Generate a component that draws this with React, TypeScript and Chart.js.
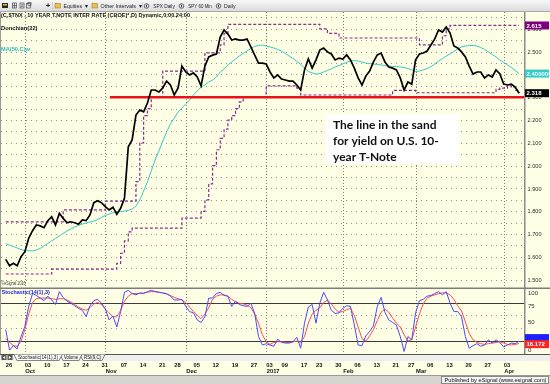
import React, { useEffect, useRef } from "react";
import { Chart, registerables } from "chart.js";
Chart.register(...registerables);

// ---------------- DATA ----------------
// one value per trading day, 2016-09-26 .. 2017-04-07 (index 0..134)
const closeYield = [
  1.589, 1.561, 1.572, 1.561, 1.601, 1.623, 1.682, 1.715, 1.740, 1.736,
  1.728, 1.759, 1.776, 1.740, 1.791, 1.769, 1.750, 1.754, 1.750, 1.743,
  1.762, 1.759, 1.784, 1.838, 1.846, 1.838, 1.820, 1.806, 1.818, 1.787,
  1.813, 1.857, 2.083, 2.113, 2.222, 2.244, 2.236, 2.275, 2.332, 2.332,
  2.323, 2.341, 2.371, 2.354, 2.310, 2.341, 2.437, 2.411, 2.398, 2.407,
  2.389, 2.350, 2.437, 2.477, 2.485, 2.490, 2.564, 2.595, 2.577, 2.551,
  2.556, 2.551, 2.551, 2.556, 2.521, 2.485, 2.450, 2.450, 2.446, 2.411,
  2.385, 2.398, 2.380, 2.376, 2.371, 2.371, 2.354, 2.332, 2.420, 2.468,
  2.428, 2.464, 2.507, 2.516, 2.499, 2.490, 2.464, 2.472, 2.468, 2.486,
  2.464, 2.428, 2.385, 2.354, 2.393, 2.415, 2.455, 2.486, 2.494, 2.455,
  2.433, 2.428, 2.420, 2.385, 2.332, 2.367, 2.358, 2.464, 2.490, 2.494,
  2.503, 2.529, 2.556, 2.595, 2.586, 2.608, 2.582, 2.525, 2.516, 2.499,
  2.477, 2.437, 2.402, 2.411, 2.411, 2.385, 2.398, 2.389, 2.420, 2.402,
  2.358, 2.354, 2.358, 2.345, 2.318,
];

const ma50 = [
  1.657, 1.652, 1.646, 1.639, 1.632, 1.628, 1.627, 1.627, 1.630, 1.637,
  1.648, 1.659, 1.670, 1.681, 1.692, 1.703, 1.714, 1.722, 1.731, 1.738,
  1.744, 1.749, 1.753, 1.757, 1.764, 1.773, 1.782, 1.788, 1.793, 1.797,
  1.799, 1.801, 1.804, 1.810, 1.823, 1.850, 1.889, 1.929, 1.977, 2.025,
  2.064, 2.108, 2.148, 2.183, 2.209, 2.236, 2.253, 2.271, 2.288, 2.310,
  2.328, 2.345, 2.354, 2.367, 2.376, 2.389, 2.411, 2.424, 2.442, 2.455,
  2.468, 2.481, 2.492, 2.503, 2.514, 2.523, 2.527, 2.529, 2.525, 2.521,
  2.516, 2.510, 2.503, 2.492, 2.481, 2.470, 2.457, 2.444, 2.429, 2.413,
  2.407, 2.402, 2.404, 2.411, 2.418, 2.424, 2.433, 2.439, 2.446, 2.453,
  2.459, 2.461, 2.459, 2.455, 2.450, 2.448, 2.446, 2.444, 2.442, 2.439,
  2.437, 2.435, 2.435, 2.433, 2.431, 2.426, 2.420, 2.413, 2.415, 2.420,
  2.426, 2.435, 2.446, 2.459, 2.470, 2.481, 2.490, 2.501, 2.512, 2.521,
  2.525, 2.527, 2.527, 2.525, 2.518, 2.510, 2.499, 2.488, 2.477, 2.463,
  2.453, 2.442, 2.431, 2.418, 2.404,
];

// Donchian(22) channel, as step change points (day index, level)
const donchUpperIdx = [0, 15, 26, 34, 35, 36, 37, 38, 41, 52, 56, 57, 58, 82, 84, 87, 108, 114, 115, 116, 134];
const donchUpperVal = [1.754, 1.806, 1.845, 1.93, 2.10, 2.22, 2.25, 2.30, 2.415, 2.495, 2.53, 2.58, 2.62, 2.60, 2.58, 2.56, 2.53, 2.57, 2.60, 2.615, 2.615];
const donchLowerIdx = [0, 12, 29, 30, 31, 32, 33, 46, 51, 52, 53, 54, 55, 56, 57, 58, 59, 60, 61, 62, 68, 76, 77, 101, 107, 128, 129, 131, 132, 133, 134];
const donchLowerVal = [1.525, 1.546, 1.572, 1.616, 1.67, 1.71, 1.726, 1.77, 1.80, 1.85, 1.92, 2.00, 2.07, 2.12, 2.16, 2.20, 2.22, 2.25, 2.28, 2.30, 2.35, 2.34, 2.31, 2.33, 2.32, 2.335, 2.34, 2.35, 2.344, 2.33, 2.318];

// Stochastic(14(1),3)
const stochK = [
  38, 6, 13, 8, 27, 43, 74, 94, 91, 87,
  83, 90, 84, 77, 97, 88, 82, 79, 75, 71,
  68, 58, 75, 83, 85, 79, 70, 53, 59, 42,
  66, 96, 99, 94, 92, 95, 94, 97, 99, 97,
  96, 95, 94, 90, 84, 84, 85, 74, 66, 64,
  53, 49, 58, 87, 87, 94, 96, 91, 90, 74,
  82, 77, 75, 74, 79, 63, 27, 14, 16, 14,
  12, 23, 18, 17, 17, 19, 26, 9, 48, 73,
  77, 48, 79, 96, 84, 68, 63, 64, 71, 75,
  74, 45, 14, 13, 28, 35, 44, 74, 88, 65,
  53, 49, 45, 27, 4, 27, 22, 64, 83, 85,
  90, 91, 94, 97, 92, 97, 79, 66, 66, 58,
  27, 9, 13, 16, 12, 14, 22, 17, 22, 18,
  11, 14, 17, 16, 20,
];
const stochD = [
  24, 18, 13, 12, 20, 38, 62, 80, 86, 87,
  87, 87, 86, 85, 86, 86, 84, 81, 77, 73,
  70, 68, 72, 78, 80, 77, 70, 64, 58, 58,
  68, 82, 90, 94, 94, 94, 95, 96, 97, 97,
  96, 95, 93, 91, 88, 86, 84, 80, 73, 66,
  60, 55, 62, 72, 85, 90, 92, 92, 90, 85,
  81, 79, 78, 76, 72, 62, 48, 30, 19, 15,
  18, 19, 19, 18, 18, 19, 20, 18, 27, 48,
  62, 68, 72, 80, 84, 78, 70, 65, 66, 69,
  71, 60, 42, 24, 20, 28, 38, 52, 65, 70,
  65, 56, 48, 42, 30, 20, 22, 42, 62, 78,
  87, 90, 92, 94, 95, 95, 92, 85, 75, 67,
  50, 32, 22, 18, 16, 15, 16, 17, 18, 19,
  17, 15, 14, 15, 16.172,
];

const weekTickIdx = [0, 5, 10, 15, 20, 25, 30, 35, 40, 44, 49, 54, 59, 64, 68, 72, 77, 81, 86, 91, 96, 101, 105, 110, 115, 120, 125, 130];
const weekTickLabels = ["26", "03", "10", "17", "24", "31", "07", "14", "21", "28", "05", "12", "19", "27", "03", "09", "17", "23", "30", "06", "13", "21", "27", "06", "13", "20", "27", "03"];
const monthIdx = [5, 26, 47, 68, 88, 107, 130];
const monthLabels = ["Oct", "Nov", "Dec", "2017", "Feb", "Mar", "Apr"];

const priceTicks = [1.5, 1.6, 1.7, 1.8, 1.9, 2.0, 2.1, 2.2, 2.3, 2.4, 2.5, 2.6];
const priceGridLevels = [1.5, 1.55, 1.6, 1.65, 1.7, 1.75, 1.8, 1.85, 1.9, 1.95, 2.0, 2.05, 2.1, 2.15, 2.2, 2.25, 2.3, 2.35, 2.4, 2.45, 2.5, 2.55, 2.6, 2.65];
const stochTicks = [0, 25, 50, 75, 100];
const stochBands = [20, 80];
const stochGridLevels = [40, 60];
const sandLevel = 2.3;
const sandStartIdx = 27.2;
const maLastLabel = "2.4000000";

// ---------------- LAYOUT / STYLE ----------------
const W = 550, H = 384;
const TOOLBAR_H = 12;
const PLOT_RIGHT = 524;
const PRICE_BOTTOM = 288;
const STOCH_BOTTOM = 354;
const CREAM = "#FFFFE6";
const FONT = "'Liberation Sans', Arial, sans-serif";
const C_PRICE = "#000000";
const C_MA = "#38C8C8";
const C_DON = "#8E2A8E";
const C_SAND = "#E8121A";
const C_K = "#4A4AFF";
const C_D = "#FF4C4C";

function fitText(ctx: CanvasRenderingContext2D, txt: string, x: number, y: number, w: number, align: "left" | "right" | "center" = "left") {
  const m = ctx.measureText(txt).width || 1;
  const s = w / m;
  ctx.save();
  ctx.translate(x, y);
  ctx.scale(s, 1);
  ctx.textAlign = align;
  ctx.fillText(txt, 0, 0);
  ctx.restore();
}

function hLine(ctx: CanvasRenderingContext2D, x0: number, x1: number, y: number) {
  ctx.beginPath();
  ctx.moveTo(x0, y);
  ctx.lineTo(x1, y);
  ctx.stroke();
}
function vLine(ctx: CanvasRenderingContext2D, x: number, y0: number, y1: number) {
  ctx.beginPath();
  ctx.moveTo(x, y0);
  ctx.lineTo(x, y1);
  ctx.stroke();
}

function valueBox(ctx: CanvasRenderingContext2D, y: number, bg: string, fg: string, txt: string) {
  ctx.fillStyle = bg;
  ctx.fillRect(525, y - 4, 24, 8);
  ctx.save();
  ctx.beginPath();
  ctx.rect(525, y - 4, 24, 8);
  ctx.clip();
  ctx.fillStyle = fg;
  ctx.font = `bold 6px ${FONT}`;
  ctx.textAlign = "left";
  ctx.textBaseline = "middle";
  ctx.fillText(txt, 526.5, y + 0.5);
  ctx.restore();
}

function folderIcon(ctx: CanvasRenderingContext2D, x: number) {
  ctx.fillStyle = "#E8C24A";
  ctx.fillRect(x, 3.5, 5.5, 4.5);
  ctx.fillStyle = "#F6DA7A";
  ctx.fillRect(x, 2.5, 2.5, 1.5);
  ctx.strokeStyle = "#8C7020";
  ctx.lineWidth = 0.5;
  ctx.strokeRect(x, 3.5, 5.5, 4.5);
}
function roundIcon(ctx: CanvasRenderingContext2D, x: number) {
  ctx.strokeStyle = "#333";
  ctx.lineWidth = 0.7;
  ctx.beginPath();
  ctx.arc(x, 6, 2.3, 0, Math.PI * 2);
  ctx.stroke();
  ctx.fillStyle = "#333";
  ctx.fillRect(x - 0.5, 4.8, 1, 2.4);
}

const esignalPlugin = {
  id: "esignal",
  beforeDraw(chart: any) {
    const ctx: CanvasRenderingContext2D = chart.ctx;
    ctx.save();
    ctx.fillStyle = CREAM;
    ctx.fillRect(0, 0, W, H);
    // toolbar
    const g = ctx.createLinearGradient(0, 0, 0, TOOLBAR_H);
    g.addColorStop(0, "#F7F7F7");
    g.addColorStop(1, "#DADADA");
    ctx.fillStyle = g;
    ctx.fillRect(0, 0, W, TOOLBAR_H);
    ctx.fillStyle = "#A9A9A9";
    ctx.fillRect(0, TOOLBAR_H - 1, W, 1);
    // toolbar icons
    ctx.fillStyle = "#2A2A2A";
    ctx.fillRect(2, 3, 6, 5);
    ctx.fillStyle = "#E8C030";
    ctx.fillRect(3, 4, 4, 1.5);
    ctx.strokeStyle = "#333";
    ctx.lineWidth = 0.6;
    ctx.strokeRect(12.5, 3, 4, 5);
    hLine(ctx, 12.5, 16.5, 5.5);
    vLine(ctx, 14.5, 3, 8);
    ctx.strokeRect(20, 3, 4, 5);
    hLine(ctx, 20.8, 23.2, 4.8);
    hLine(ctx, 20.8, 23.2, 6.3);
    ctx.strokeRect(26.5, 3.5, 4, 4.5);
    ctx.strokeRect(28, 2.5, 3, 3);
    ctx.fillStyle = "#222";
    ctx.font = `bold 8px ${FONT}`;
    ctx.textBaseline = "middle";
    ctx.textAlign = "center";
    ctx.fillText("+", 48, 6);
    ctx.strokeStyle = "#BDBDBD";
    vLine(ctx, 52.5, 2, 10);
    vLine(ctx, 142.5, 2, 10);
    ctx.font = `5.6px ${FONT}`;
    ctx.fillStyle = "#1E1E1E";
    folderIcon(ctx, 55);
    ctx.fillStyle = "#1E1E1E";
    fitText(ctx, "Equities", 63.5, 6.2, 18.5);
    fitText(ctx, "\u25BE", 85, 6.2, 3);
    folderIcon(ctx, 92);
    ctx.fillStyle = "#1E1E1E";
    fitText(ctx, "Other Intervals", 100.5, 6.2, 35.5);
    fitText(ctx, "\u25BE", 138.5, 6.2, 3);
    roundIcon(ctx, 146.5);
    ctx.fillStyle = "#1E1E1E";
    fitText(ctx, "SPX Daily", 153.3, 6.2, 21.5);
    roundIcon(ctx, 181.5);
    ctx.fillStyle = "#1E1E1E";
    fitText(ctx, "SPY 60 Min", 188.3, 6.2, 23.5);
    roundIcon(ctx, 218.5);
    ctx.fillStyle = "#1E1E1E";
    fitText(ctx, "Daily", 224, 6.2, 11.5);
    ctx.restore();
  },
  beforeDatasetsDraw(chart: any) {
    const ctx: CanvasRenderingContext2D = chart.ctx;
    const xs = chart.scales.x, ys = chart.scales.y, y2 = chart.scales.y2;
    ctx.save();
    ctx.lineWidth = 1;
    // horizontal dotted price grid
    ctx.strokeStyle = "#8F8F8F";
    ctx.setLineDash([1, 4]);
    for (const v of priceGridLevels) {
      const yy = Math.round(ys.getPixelForValue(v)) + 0.5;
      if (yy > TOOLBAR_H + 2 && yy < PRICE_BOTTOM - 1) hLine(ctx, 1, PLOT_RIGHT, yy);
    }
    for (const v of stochGridLevels) {
      const yy = Math.round(y2.getPixelForValue(v)) + 0.5;
      hLine(ctx, 1, PLOT_RIGHT, yy);
    }
    // vertical month lines
    ctx.strokeStyle = "#7E7E7E";
    ctx.setLineDash([1, 2]);
    for (const m of monthIdx) {
      const xx = Math.round(xs.getPixelForValue(m)) + 0.5;
      vLine(ctx, xx, TOOLBAR_H, STOCH_BOTTOM);
    }
    ctx.setLineDash([]);
    // stochastic band lines
    ctx.strokeStyle = "#3C3C3C";
    for (const b of stochBands) {
      const yy = Math.round(y2.getPixelForValue(b)) + 0.5;
      hLine(ctx, 0, PLOT_RIGHT, yy);
    }
    // borders
    ctx.strokeStyle = "#9A9A9A";
    vLine(ctx, 0.5, TOOLBAR_H, STOCH_BOTTOM);
    ctx.strokeStyle = "#8A8A8A";
    ctx.lineWidth = 1.5;
    vLine(ctx, PLOT_RIGHT + 0.75, TOOLBAR_H, STOCH_BOTTOM);
    ctx.strokeStyle = "#7C7C7C";
    ctx.lineWidth = 1.5;
    hLine(ctx, 0, W, PRICE_BOTTOM + 0.25);
    ctx.restore();
  },
  afterDatasetsDraw(chart: any) {
    const ctx: CanvasRenderingContext2D = chart.ctx;
    const xs = chart.scales.x, ys = chart.scales.y, y2 = chart.scales.y2;
    ctx.save();
    ctx.textBaseline = "middle";

    // header texts
    ctx.fillStyle = "#111";
    ctx.font = `bold 6px ${FONT}`;
    fitText(ctx, "(C,$TNX , 10 YEAR T.NOTE INTER RATE (CBOE)*,D) Dynamic,0:00.24:00", 1, 15.3, 189);
    fitText(ctx, "Donchian(22)", 1, 28.8, 36.5);
    ctx.fillStyle = "#2CBABA";
    fitText(ctx, "MA(50,C)w", 1, 49.3, 29);
    ctx.fillStyle = "#333";
    ctx.font = `4.5px ${FONT}`;
    fitText(ctx, "\u00A9eSignal 2016", 1.5, 283.5, 24);
    ctx.fillStyle = "#2323D8";
    ctx.font = `bold 6px ${FONT}`;
    fitText(ctx, "Stochastic(14(1),3)", 1.7, 292.6, 48);

    // annotation box
    ctx.fillStyle = "#FFFFFF";
    ctx.fillRect(326, 114, 133, 50);
    ctx.fillStyle = "#111";
    ctx.font = `bold 12px Lato, 'Open Sans', sans-serif`;
    ctx.textAlign = "left";
    ctx.fillText("The line in the sand", 333, 125.5);
    ctx.fillText("for yield on U.S. 10-", 333, 141.5);
    ctx.fillText("year T-Note", 333, 157.5);

    // right axis labels (price)
    ctx.fillStyle = "#2E2E2E";
    ctx.font = `6px ${FONT}`;
    for (const t of priceTicks) {
      const yy = ys.getPixelForValue(t);
      fitText(ctx, t.toFixed(3), 527.5, yy + 0.5, 14);
    }
    // right axis labels (stochastic)
    for (const t of stochTicks) {
      let yy = y2.getPixelForValue(t);
      yy = Math.max(PRICE_BOTTOM + 5, Math.min(STOCH_BOTTOM - 4, yy));
      ctx.textAlign = "left";
      ctx.fillText(String(t), 528, yy + 0.5);
    }

    // last-value boxes
    const last = closeYield.length - 1;
    valueBox(ctx, ys.getPixelForValue(donchUpperVal[donchUpperVal.length - 1]), "#7E007E", "#FFFFFF", donchUpperVal[donchUpperVal.length - 1].toFixed(3));
    valueBox(ctx, ys.getPixelForValue(ma50[last]), "#36CACA", "#E8FFFF", maLastLabel);
    valueBox(ctx, ys.getPixelForValue(closeYield[last]), "#000000", "#FFFFFF", closeYield[last].toFixed(3));
    const dY = y2.getPixelForValue(stochD[last]);
    valueBox(ctx, dY - 5.5, "#2020FF", "#2020FF", stochK[last].toFixed(3));
    valueBox(ctx, dY + 0.5, "#FF2222", "#FFFFFF", stochD[last].toFixed(3));

    // tab bar
    ctx.fillStyle = "#EFEFEF";
    ctx.fillRect(0, STOCH_BOTTOM, W, 7);
    ctx.strokeStyle = "#555";
    ctx.lineWidth = 1;
    hLine(ctx, 0, W, STOCH_BOTTOM + 0.5);
    for (const bx of [1.5, 7.5]) {
      ctx.fillStyle = "#555";
      ctx.fillRect(bx, STOCH_BOTTOM + 1, 5, 5);
    }
    ctx.fillStyle = "#FFF";
    ctx.beginPath();
    ctx.moveTo(5.2, STOCH_BOTTOM + 2); ctx.lineTo(2.8, STOCH_BOTTOM + 3.5); ctx.lineTo(5.2, STOCH_BOTTOM + 5); ctx.fill();
    ctx.beginPath();
    ctx.moveTo(8.8, STOCH_BOTTOM + 2); ctx.lineTo(11.2, STOCH_BOTTOM + 3.5); ctx.lineTo(8.8, STOCH_BOTTOM + 5); ctx.fill();
    const tabs: [string, number, number, boolean][] = [
      ["Stochastic(14(1),3)", 14, 62, true],
      ["Volume", 60, 82, false],
      ["RSI(9,C)", 80, 105, false],
    ];
    for (let k = tabs.length - 1; k >= 0; k--) {
      const [txt, a, b, active] = tabs[k];
      ctx.fillStyle = active ? "#FFFFFF" : "#F2F2F2";
      ctx.beginPath();
      ctx.moveTo(a, STOCH_BOTTOM + 0.5);
      ctx.lineTo(a + 3, STOCH_BOTTOM + 6.5);
      ctx.lineTo(b - 3, STOCH_BOTTOM + 6.5);
      ctx.lineTo(b, STOCH_BOTTOM + 0.5);
      ctx.fill();
      ctx.strokeStyle = "#555";
      ctx.lineWidth = 0.7;
      ctx.stroke();
      ctx.fillStyle = "#111";
      ctx.font = `5px ${FONT}`;
      fitText(ctx, txt, (a + b) / 2, STOCH_BOTTOM + 3.6, b - a - 8, "center");
    }

    // x axis labels
    ctx.fillStyle = "#111";
    ctx.font = `bold 5.8px ${FONT}`;
    for (let k = 0; k < weekTickIdx.length; k++) {
      const xx = xs.getPixelForValue(weekTickIdx[k]);
      ctx.textAlign = "left";
      ctx.fillText(weekTickLabels[k], xx, 365);
    }
    for (let k = 0; k < monthIdx.length; k++) {
      const xx = xs.getPixelForValue(monthIdx[k]);
      ctx.textAlign = "left";
      ctx.fillText(monthLabels[k], xx + 0.5, 371.5);
    }

    // bottom strip
    ctx.fillStyle = "#D8D5D0";
    ctx.fillRect(0, 375.5, W, H - 375.5);
    ctx.strokeStyle = "#9C9C9C";
    ctx.lineWidth = 1;
    hLine(ctx, 0, W, 375.5);
    ctx.fillStyle = "#F4F4F4";
    ctx.fillRect(441.5, 376.5, 107, 7);
    ctx.strokeStyle = "#8A8A8A";
    ctx.strokeRect(441.5, 376.5, 107, 7);
    ctx.fillStyle = "#111";
    ctx.font = `5.8px ${FONT}`;
    fitText(ctx, "Published by eSignal (www.esignal.com)", 546.5, 380.2, 102, "right");
    ctx.restore();
  },
};

export default function App() {
  const ref = useRef<HTMLCanvasElement>(null);
  useEffect(() => {
    const pts = (arr: number[]) => arr.map((y, x) => ({ x, y }));
    const steps = (idx: number[], val: number[]) => idx.map((x, k) => ({ x, y: val[k] }));
    const xMin = -1.49;
    const xMax = 135.3;
    const chart = new Chart(ref.current as HTMLCanvasElement, {
      type: "line",
      data: {
        datasets: [
          { data: pts(closeYield), yAxisID: "y", borderColor: C_PRICE, borderWidth: 1.7, pointRadius: 0, order: 0 },
          { data: [{ x: sandStartIdx, y: sandLevel }, { x: xMax, y: sandLevel }], yAxisID: "y", borderColor: C_SAND, borderWidth: 2.6, pointRadius: 0, order: 1 },
          { data: pts(ma50), yAxisID: "y", borderColor: C_MA, borderWidth: 1, pointRadius: 0, order: 4 },
          { data: steps(donchUpperIdx, donchUpperVal), yAxisID: "y", borderColor: C_DON, borderWidth: 1.2, borderDash: [3, 2], stepped: true, pointRadius: 0, order: 3 },
          { data: steps(donchLowerIdx, donchLowerVal), yAxisID: "y", borderColor: C_DON, borderWidth: 1.2, borderDash: [3, 2], stepped: true, pointRadius: 0, order: 3 },
          { data: pts(stochK), yAxisID: "y2", borderColor: C_K, borderWidth: 1, pointRadius: 0, order: 5 },
          { data: pts(stochD), yAxisID: "y2", borderColor: C_D, borderWidth: 1, pointRadius: 0, order: 6 },
        ],
      },
      options: {
        animation: false,
        responsive: false,
        devicePixelRatio: 1,
        events: [],
        parsing: true,
        layout: { padding: { left: 0, right: W - PLOT_RIGHT, top: TOOLBAR_H, bottom: H - STOCH_BOTTOM } },
        plugins: { legend: { display: false }, tooltip: { enabled: false } },
        scales: {
          x: { type: "linear", display: false, min: xMin, max: xMax },
          y: { type: "linear", display: false, min: 1.1741, max: 2.6741 },
          y2: { type: "linear", display: false, min: 0, max: 531.9 },
        },
      } as any,
      plugins: [esignalPlugin as any],
    });
    return () => chart.destroy();
  }, []);
  return (
    <div style={{ position: "fixed", left: 0, top: 0, width: W, height: H }}>
      <canvas ref={ref} width={W} height={H} style={{ display: "block", width: W, height: H }} />
    </div>
  );
}
